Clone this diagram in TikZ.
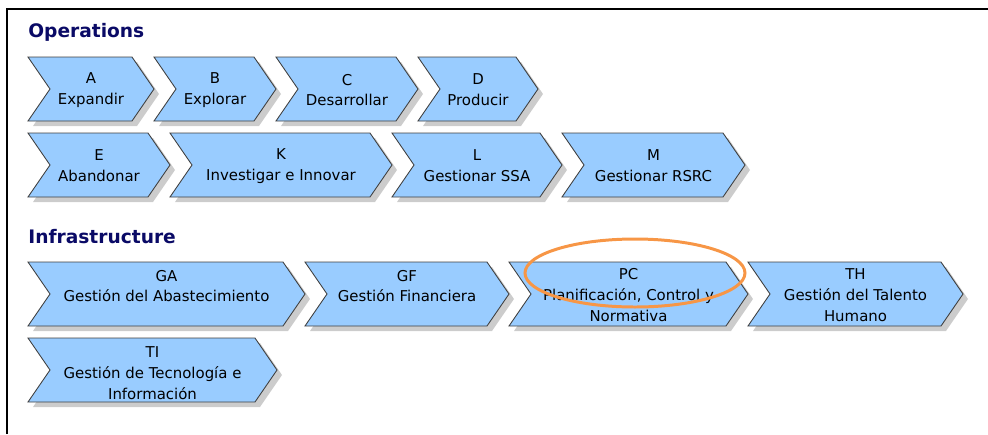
\documentclass[tikz,border=0pt]{standalone}
\usepackage{fontspec}
\setmainfont{DejaVu Sans}
\usetikzlibrary{positioning}
\definecolor{chevfill}{HTML}{99CCFF}
\definecolor{headblue}{HTML}{0A0A66}
\definecolor{markorange}{HTML}{F79646}

% [label shift] name, left, tip, top, label
\newcommand{\chevron}[6][0]{%
    \fill[chevshadow] (#3+5,#5+5) -- (#4-17,#5+5) -- (#4+5,#5+37) -- (#4-17,#5+69)
        -- (#3+5,#5+69) -- (#3+27,#5+37) -- cycle;
    \draw[chev] (#3,#5) -- (#4-22,#5) -- (#4,#5+32) -- (#4-22,#5+64)
        -- (#3,#5+64) -- (#3+22,#5+32) -- cycle;
    \node[chevlabel] (#2) at ({(#3+#4)/2},#5+33+#1) {#6};
}

\begin{document}
\begin{tikzpicture}[x=0.02cm, y=-0.02cm,
    chev/.style={draw=black!75, fill=chevfill, line width=0.5pt, line join=miter},
    chevshadow/.style={fill=black!20, draw=none},
    chevlabel/.style={align=center, font=\fontsize{8.5}{11.8}\selectfont, inner sep=0pt},
    heading/.style={anchor=base west, font=\fontsize{10.6}{12}\selectfont\bfseries, text=headblue, inner sep=0pt},
    highlight/.style={draw=markorange, line width=1.7pt}
]
    \useasboundingbox (0,0) rectangle (988,434);

    % Frame
    \draw[line width=1.1pt] (7,434) -- (7,9) -- (988,9);

    % Headings
    \node[heading] (ops) at (28,37) {Operations};
    \node[heading] (infra) at (28,243) {Infrastructure};

    % Operations
    \chevron{A}{28}{154}{57}{A\\Expandir}
    \chevron{B}{154}{276}{57}{B\\Explorar}
    \chevron{C}{276}{418}{57}{C\\Desarrollar}
    \chevron{D}{418}{538}{57}{D\\Producir}
    \chevron{E}{28}{170}{133}{E\\Abandonar}
    \chevron{K}{170}{392}{133}{K\\Investigar e Innovar}
    \chevron{L}{392}{562}{133}{L\\Gestionar SSA}
    \chevron{M}{562}{745}{133}{M\\Gestionar RSRC}

    % Infrastructure
    \chevron[-9]{GA}{28}{305}{262}{GA\\Gestión del Abastecimiento}
    \chevron[-9]{GF}{305}{509}{262}{GF\\Gestión Financiera}
    \chevron{PC}{509}{748}{262}{PC\\Planificación, Control y\\Normativa}
    \chevron{TH}{748}{963}{262}{TH\\Gestión del Talento\\Humano}
    \chevron[2]{TI}{28}{277}{338}{TI\\Gestión de Tecnología e\\Información}

    % Highlight
    \draw[highlight] (635,273) ellipse [x radius=110, y radius=34];
\end{tikzpicture}
\end{document}
